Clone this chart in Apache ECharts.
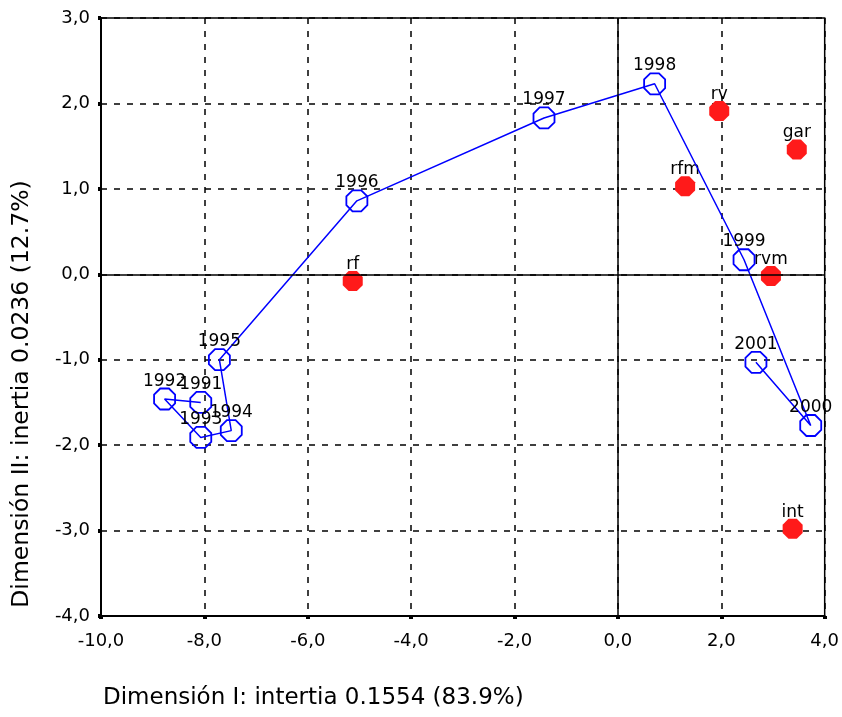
<!DOCTYPE html>
<html>
<head>
<meta charset="utf-8">
<script src="https://cdn.jsdelivr.net/npm/echarts@6/dist/echarts.min.js"></script>
<style>
html,body{margin:0;padding:0;background:#fff;}
#chart{width:842px;height:717px;}
</style>
</head>
<body>
<div id="chart"></div>
<script>
// Years trajectory (Dimension I, Dimension II)
var yearLabels = ['1991','1992','1993','1994','1995','1996','1997','1998','1999','2000','2001'];
var yearDim1 = [-8.07, -8.77, -8.07, -7.48, -7.71, -5.05, -1.43, 0.71, 2.44, 3.73, 2.67];
var yearDim2 = [-1.50, -1.46, -1.91, -1.83, -1.00, 0.86, 1.83, 2.23, 0.17, -1.77, -1.03];

// Variables
var varLabels = ['rf', 'rfm', 'rv', 'gar', 'rvm', 'int'];
var varDim1 = [-5.13, 1.30, 1.96, 3.46, 2.96, 3.38];
var varDim2 = [-0.08, 1.03, 1.91, 1.46, -0.02, -2.98];

// Axis settings
var xMin = -10, xMax = 4, xStep = 2;
var yMin = -4, yMax = 3, yStep = 1;

var xTitle = 'Dimensión I: intertia 0.1554 (83.9%)';
var yTitle = 'Dimensión II: inertia 0.0236 (12.7%)';

var FONT = 'DejaVu Sans';
var octagon = 'path://M29.3,0 L70.7,0 L100,29.3 L100,70.7 L70.7,100 L29.3,100 L0,70.7 L0,29.3 Z';

function fmt(v){ return v.toFixed(1).replace('.', ','); }

var yearData = yearLabels.map(function(n,i){ return {name:n, value:[yearDim1[i], yearDim2[i]]}; });
var varData = varLabels.map(function(n,i){ return {name:n, value:[varDim1[i], varDim2[i]]}; });

var chart = echarts.init(document.getElementById('chart'), null, {renderer:'canvas'});
chart.setOption({
  backgroundColor: '#ffffff',
  animation: false,
  grid: {left: 101, right: 14, top: 18, bottom: 101, show: true, borderColor: '#000', borderWidth: 1.5, backgroundColor: 'transparent'},
  xAxis: {
    type: 'value', min: xMin, max: xMax, interval: xStep,
    axisLine: {onZero: false, lineStyle: {color: '#000', width: 2}},
    axisTick: {show: true, length: 3, lineStyle: {color: '#000', width: 4}},
    axisLabel: {formatter: fmt, color: '#000', fontFamily: FONT, fontSize: 18, margin: 16},
    splitLine: {show: true, lineStyle: {color: '#000', type: [6, 7], width: 1.5}}
  },
  yAxis: {
    type: 'value', min: yMin, max: yMax, interval: yStep,
    axisLine: {onZero: false, lineStyle: {color: '#000', width: 2}},
    axisTick: {show: true, length: 3, lineStyle: {color: '#000', width: 4}},
    axisLabel: {formatter: fmt, color: '#000', fontFamily: FONT, fontSize: 18, margin: 11},
    splitLine: {show: true, lineStyle: {color: '#000', type: [6, 7], width: 1.5}}
  },
  graphic: [
    {type: 'text', left: 103, top: 687, style: {text: xTitle, font: '23px "DejaVu Sans"', fill: '#000'}},
    {type: 'text', x: 22, y: 394, rotation: Math.PI/2,
     style: {text: yTitle, font: '23.5px "DejaVu Sans"', fill: '#000', align: 'center', verticalAlign: 'middle'}}
  ],
  series: [
    {
      type: 'scatter', data: varData, symbol: octagon, symbolSize: 20, z: 3,
      itemStyle: {color: '#ff1a1a', opacity: 1},
      label: {show: true, position: 'top', distance: -2, formatter: '{b}', color: '#000', opacity: 1, fontFamily: FONT, fontSize: 17},
      emphasis: {disabled: true},
      markLine: {
        silent: true, symbol: 'none', animation: false,
        label: {show: false},
        lineStyle: {color: '#000', type: 'solid', width: 1.5},
        data: [{xAxis: 0}, {yAxis: 0}]
      }
    },
    {
      type: 'line', data: yearData, symbol: octagon, symbolSize: 21, z: 4,
      showAllSymbol: true,
      lineStyle: {color: '#0000ff', width: 1.5},
      itemStyle: {color: 'rgba(0,0,0,0)', borderColor: '#0000ff', borderWidth: 1.8},
      emphasis: {disabled: true},
      label: {show: true, position: 'top', distance: -2, formatter: '{b}', color: '#000', fontFamily: FONT, fontSize: 17}
    }
  ]
});
</script>
</body>
</html>
